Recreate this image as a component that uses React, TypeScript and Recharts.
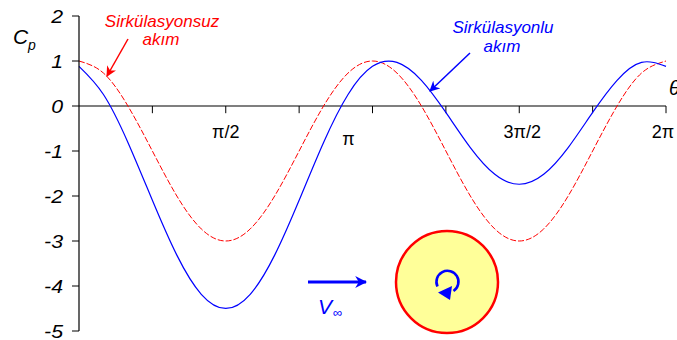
import { LineChart, Line, XAxis, YAxis, ReferenceLine } from 'recharts'

// θ in degrees, one sample every 15°
const thetaDeg = [
  0, 15, 30, 45, 60, 75, 90, 105, 120, 135, 150, 165, 180,
  195, 210, 225, 240, 255, 270, 285, 300, 315, 330, 345, 360,
]

// Cp without circulation
const cpNoCirc = [
  1, 0.732, 0, -1, -2, -2.732, -3, -2.732, -2, -1, 0, 0.732, 1,
  0.732, 0, -1, -2, -2.732, -3, -2.732, -2, -1, 0, 0.732, 1,
]

// Cp with circulation
const cpCirc = [
  0.881, 0.256, -0.809, -2.095, -3.314, -4.184, -4.499, -4.184, -3.314, -2.095, -0.809, 0.256, 0.881,
  0.97, 0.571, -0.143, -0.924, -1.518, -1.739, -1.518, -0.924, -0.143, 0.571, 0.97, 0.881,
]

const yTicks = [-5, -4, -3, -2, -1, 0, 1, 2]
const xTickDeg = [45, 90, 135, 180, 225, 270, 315, 360]
const xTickLabels: Record<number, { text: string; dx: number; dy: number }> = {
  90: { text: 'π/2', dx: 0, dy: 32 },
  180: { text: 'π', dx: -24, dy: 39 },
  270: { text: '3π/2', dx: 3, dy: 32 },
  360: { text: '2π', dx: -3, dy: 32 },
}

const data = thetaDeg.map((deg, i) => ({ deg, red: cpNoCirc[i], blue: cpCirc[i] }))

const FONT = '"Liberation Sans", Arial, sans-serif'

function tickLabel(deg: number) {
  const lab = xTickLabels[deg]
  if (!lab) return undefined
  return {
    content: (props: any) => {
      const vb = props.viewBox || {}
      return (
        <text
          x={(vb.x ?? 0) + lab.dx}
          y={(vb.y ?? 0) + lab.dy}
          textAnchor="middle"
          fontFamily={FONT}
          fontSize={18}
          fill="#000"
        >
          {lab.text}
        </text>
      )
    },
  }
}

// italic y tick labels, slightly widened like the original typeface
function YTick(props: any) {
  const { x, y, payload } = props
  return (
    <text
      x={x}
      y={y}
      dy={7}
      textAnchor="end"
      fontFamily={FONT}
      fontSize={19}
      fontStyle="italic"
      fill="#000"
      transform={`translate(${x} 0) scale(1.12 1) translate(${-x} 0)`}
    >
      {payload.value}
    </text>
  )
}

export default function App() {
  return (
    <div style={{ position: 'absolute', left: 0, top: 0, width: 677, height: 340, background: '#fff' }}>
      <LineChart
        width={677}
        height={340}
        data={data}
        margin={{ top: 16, right: 11, bottom: 9, left: 0 }}
      >
        <XAxis type="number" dataKey="deg" domain={[0, 360]} hide />
        <YAxis
          width={79}
          domain={[-5, 2]}
          ticks={yTicks}
          interval={0}
          tickSize={7}
          tickMargin={9}
          stroke="#000"
          axisLine={{ stroke: '#000', strokeWidth: 1.2 }}
          tickLine={{ stroke: '#000' }}
          tick={<YTick />}
        />
        <ReferenceLine y={0} stroke="#000" strokeWidth={1.2} />
        {xTickDeg.map((d) => (
          <ReferenceLine
            key={d}
            segment={[{ x: d, y: 0 }, { x: d, y: -0.16 }]}
            stroke="#000"
            strokeWidth={1}
            label={tickLabel(d)}
          />
        ))}
        <Line
          type="natural"
          dataKey="red"
          stroke="#ff0000"
          strokeWidth={1}
          strokeDasharray="6 2"
          dot={false}
          isAnimationActive={false}
        />
        <Line
          type="natural"
          dataKey="blue"
          stroke="#0000ff"
          strokeWidth={1.2}
          dot={false}
          isAnimationActive={false}
        />
      </LineChart>

      <svg
        width={677}
        height={340}
        style={{ position: 'absolute', left: 0, top: 0, pointerEvents: 'none' }}
        fontFamily={FONT}
      >
        <defs>
          <marker id="hRed" viewBox="0 0 10 10" refX="9" refY="5" markerWidth="7" markerHeight="7" orient="auto">
            <path d="M0,0 L10,5 L0,10 L3,5 z" fill="#ff0000" />
          </marker>
          <marker id="hBlue" viewBox="0 0 10 10" refX="9" refY="5" markerWidth="7" markerHeight="7" orient="auto">
            <path d="M0,0 L10,5 L0,10 L3,5 z" fill="#0000ff" />
          </marker>
          <marker id="hBlueSmall" viewBox="0 0 10 10" refX="9" refY="5" markerWidth="4" markerHeight="4" orient="auto">
            <path d="M0,0 L10,5 L0,10 L3,5 z" fill="#0000ff" />
          </marker>
        </defs>

        {/* axis titles */}
        <text x={13} y={44} fontSize={21} fontStyle="italic" fill="#000">C</text>
        <text x={28} y={50} fontSize={14} fontStyle="italic" fill="#000">p</text>
        <text x={669} y={95} fontSize={20} fontStyle="italic" fill="#000">θ</text>

        {/* curve labels */}
        <g fill="#ff0000" fontSize={17} fontStyle="italic" textAnchor="middle">
          <text x={162} y={27}>Sirkülasyonsuz</text>
          <text x={161} y={45}>akım</text>
        </g>
        <line x1={128} y1={39} x2={107} y2={76} stroke="#ff0000" strokeWidth={1.5} markerEnd="url(#hRed)" />

        <g fill="#0000ff" fontSize={17} fontStyle="italic" textAnchor="middle">
          <text x={503} y={33}>Sirkülasyonlu</text>
          <text x={502} y={52}>akım</text>
        </g>
        <line x1={470} y1={53} x2={430} y2={91} stroke="#0000ff" strokeWidth={1.5} markerEnd="url(#hBlue)" />

        {/* free stream */}
        <line x1={308} y1={282} x2={366} y2={282} stroke="#0000ff" strokeWidth={3} markerEnd="url(#hBlueSmall)" />
        <text x={318} y={314} fontSize={21} fontStyle="italic" fill="#0000ff">V</text>
        <text x={333} y={317} fontSize={13} fill="#0000ff">∞</text>

        {/* cylinder with clockwise circulation */}
        <circle cx={447} cy={282} r={51} fill="#ffff99" stroke="#ff0000" strokeWidth={2.5} />
        <path
          d="M 437.5 286.5 A 11 11 0 1 1 453.5 291"
          fill="none"
          stroke="#0000ff"
          strokeWidth={2.6}
        />
        <path d="M 438 292.5 L 452 286 L 450 300 z" fill="#0000ff" />
      </svg>
    </div>
  )
}
